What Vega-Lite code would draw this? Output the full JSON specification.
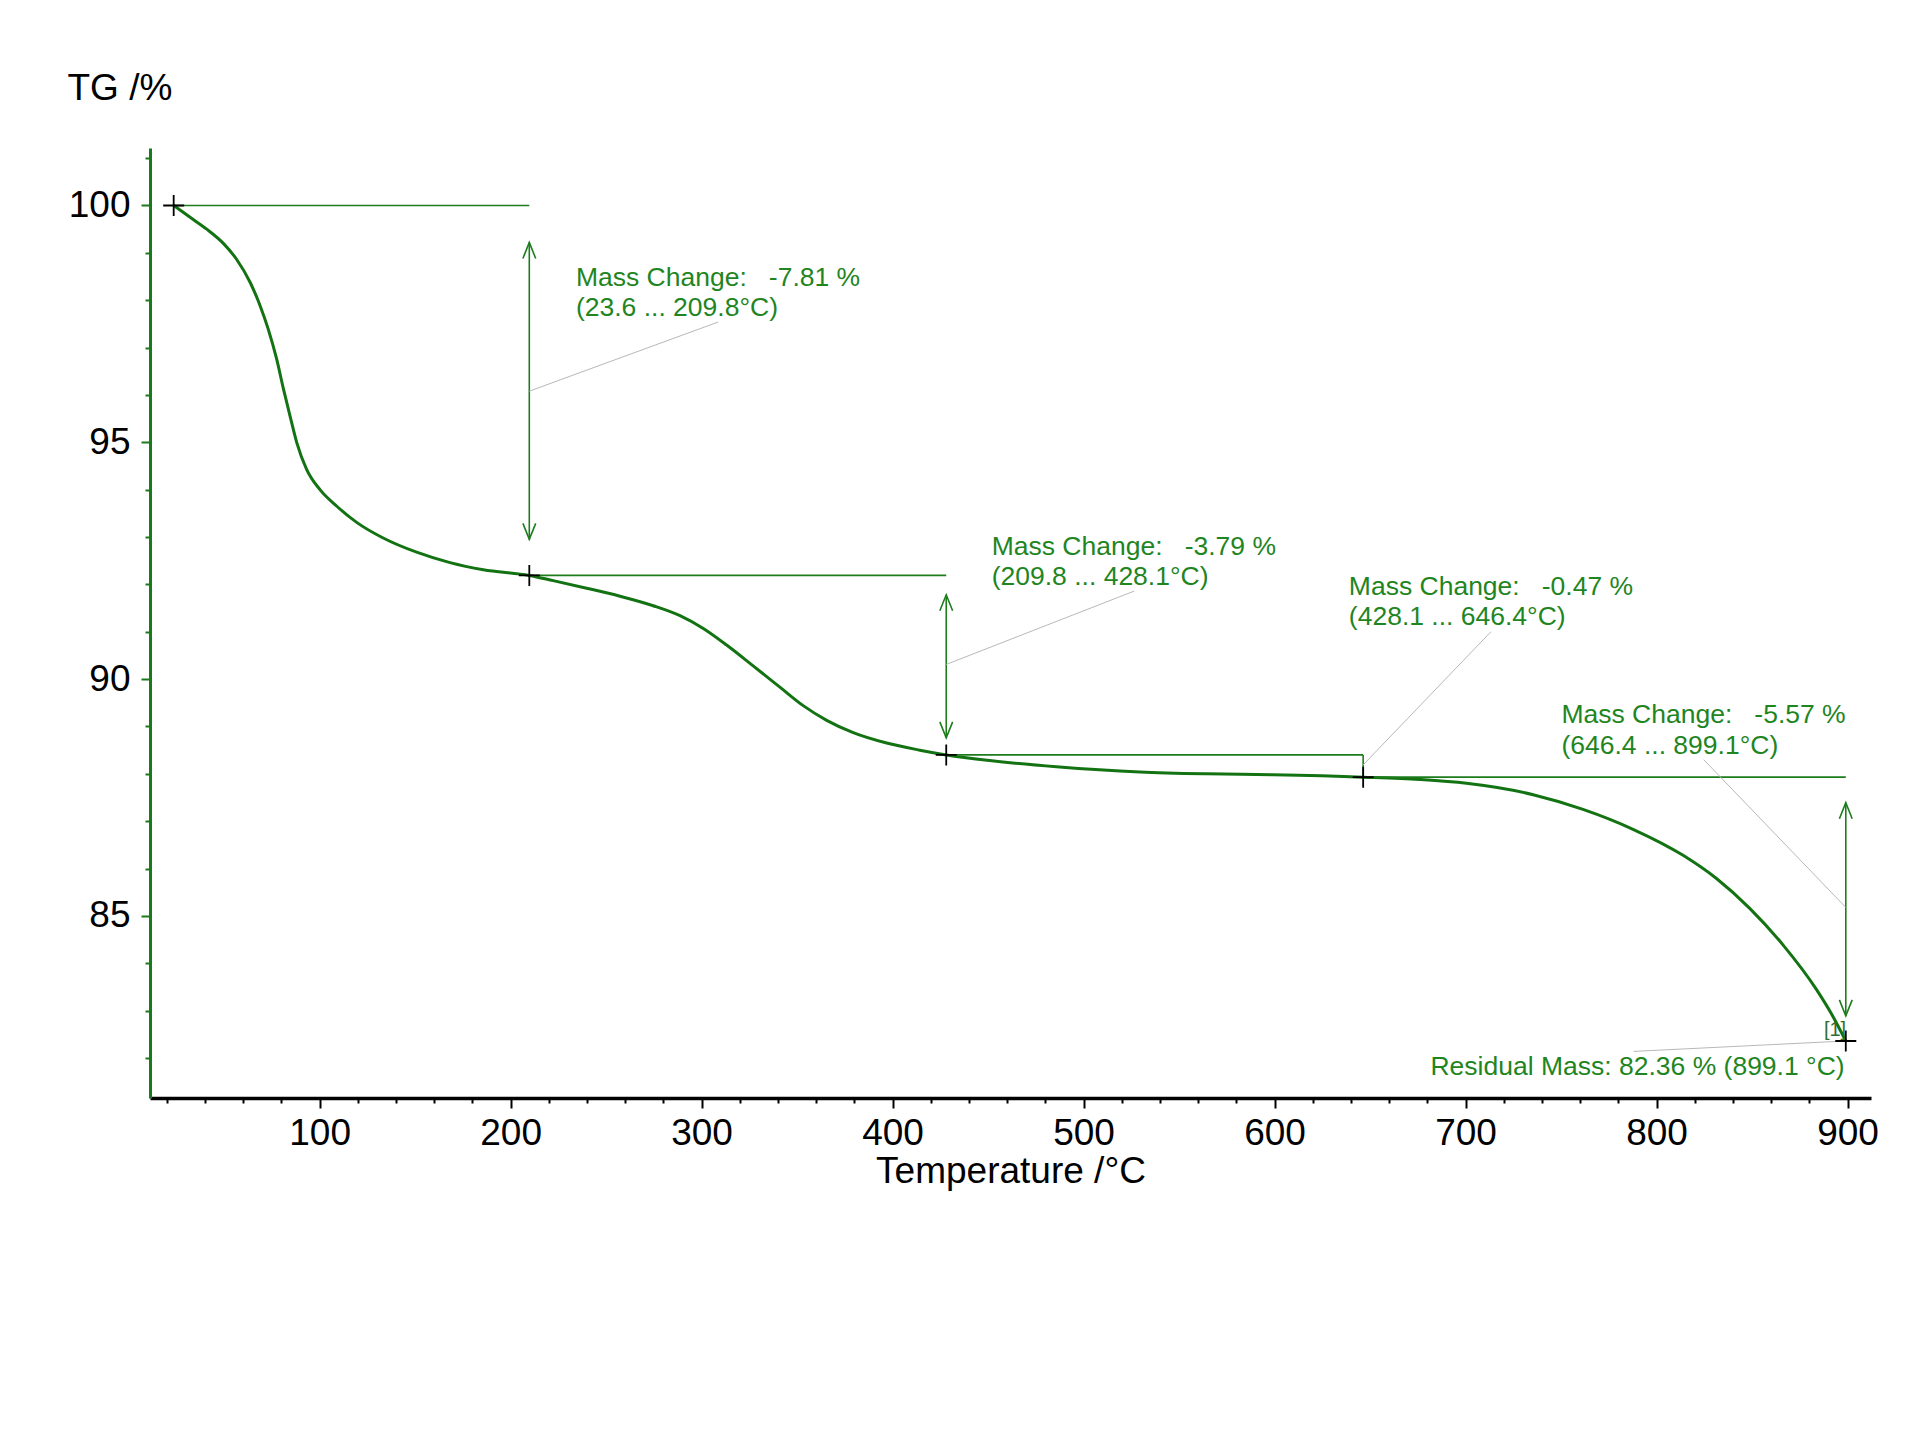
{
  "$schema": "https://vega.github.io/schema/vega-lite/v6.json",
  "width": 1721,
  "height": 950,
  "autosize": {"type": "none"},
  "padding": {"left": 150, "top": 148, "right": 49, "bottom": 354},
  "background": "white",
  "config": {"view": {"stroke": null}, "font": "Liberation Sans"},
  "datasets": {
    "curve": [
      {"T": 23.6, "TG": 100.0}, {"T": 32.2, "TG": 99.75}, {"T": 40.9, "TG": 99.50}, {"T": 49.6, "TG": 99.20},
      {"T": 56.6, "TG": 98.86}, {"T": 63.6, "TG": 98.38}, {"T": 68.8, "TG": 97.89}, {"T": 73.1, "TG": 97.39},
      {"T": 77.5, "TG": 96.76}, {"T": 81.0, "TG": 96.14}, {"T": 84.5, "TG": 95.56}, {"T": 88.0, "TG": 95.00},
      {"T": 93.2, "TG": 94.43}, {"T": 100.2, "TG": 94.0}, {"T": 109.0, "TG": 93.65}, {"T": 119.4, "TG": 93.31},
      {"T": 133.3, "TG": 92.98}, {"T": 150.8, "TG": 92.68}, {"T": 168.3, "TG": 92.46}, {"T": 185.7, "TG": 92.31},
      {"T": 209.8, "TG": 92.19}, {"T": 222.3, "TG": 92.08}, {"T": 239.8, "TG": 91.92}, {"T": 257.3, "TG": 91.75},
      {"T": 274.7, "TG": 91.55}, {"T": 288.7, "TG": 91.34}, {"T": 300.9, "TG": 91.07}, {"T": 313.1, "TG": 90.72},
      {"T": 327.0, "TG": 90.28}, {"T": 341.0, "TG": 89.83}, {"T": 353.2, "TG": 89.44}, {"T": 365.5, "TG": 89.13},
      {"T": 379.4, "TG": 88.87}, {"T": 396.9, "TG": 88.65}, {"T": 414.3, "TG": 88.50}, {"T": 428.1, "TG": 88.40},
      {"T": 450.9, "TG": 88.28}, {"T": 485.8, "TG": 88.15}, {"T": 529.5, "TG": 88.04}, {"T": 564.4, "TG": 88.00},
      {"T": 599.2, "TG": 87.98}, {"T": 646.4, "TG": 87.93}, {"T": 676.0, "TG": 87.88}, {"T": 700.5, "TG": 87.80},
      {"T": 735.4, "TG": 87.56}, {"T": 761.5, "TG": 87.25}, {"T": 787.7, "TG": 86.83}, {"T": 813.9, "TG": 86.28},
      {"T": 831.4, "TG": 85.79}, {"T": 848.8, "TG": 85.16}, {"T": 866.2, "TG": 84.39}, {"T": 883.7, "TG": 83.45},
      {"T": 891.5, "TG": 82.94}, {"T": 899.1, "TG": 82.36}
    ],
    "refs": [
      {"T": 23.6, "T2": 209.8, "TG": 100, "TG2": 100},
      {"T": 209.8, "T2": 428.1, "TG": 92.19, "TG2": 92.19},
      {"T": 428.1, "T2": 646.4, "TG": 88.40, "TG2": 88.40},
      {"T": 646.4, "T2": 646.4, "TG": 88.40, "TG2": 87.93},
      {"T": 646.4, "T2": 899.1, "TG": 87.93, "TG2": 87.93},
      {"T": 209.8, "T2": 209.8, "TG": 99.22, "TG2": 92.95},
      {"T": 428.1, "T2": 428.1, "TG": 91.78, "TG2": 88.76},
      {"T": 899.1, "T2": 899.1, "TG": 87.39, "TG2": 82.89}
    ],
    "heads": [
      {"T": 209.8, "TG": 99.22, "dir": "up"}, {"T": 209.8, "TG": 92.95, "dir": "down"},
      {"T": 428.1, "TG": 91.78, "dir": "up"}, {"T": 428.1, "TG": 88.76, "dir": "down"},
      {"T": 899.1, "TG": 87.39, "dir": "up"}, {"T": 899.1, "TG": 82.89, "dir": "down"}
    ],
    "leaders": [
      {"T": 209.8, "T2": 308.7, "TG": 96.08, "TG2": 97.54},
      {"T": 428.1, "T2": 526.6, "TG": 90.31, "TG2": 91.86},
      {"T": 646.4, "T2": 713.3, "TG": 88.19, "TG2": 91.0},
      {"T": 824.7, "T2": 899.1, "TG": 88.30, "TG2": 85.18},
      {"T": 788.0, "T2": 899.1, "TG": 82.14, "TG2": 82.36}
    ],
    "crosses": [
      {"T": 23.6, "TG": 100}, {"T": 209.8, "TG": 92.19}, {"T": 428.1, "TG": 88.40},
      {"T": 646.4, "TG": 87.93}, {"T": 899.1, "TG": 82.36}
    ],
    "notes": [
      {"T": 234.2, "TG": 98.30, "label": "Mass Change:\u00a0\u00a0 -7.81 %"},
      {"T": 234.2, "TG": 97.66, "label": "(23.6 ... 209.8°C)"},
      {"T": 451.9, "TG": 92.63, "label": "Mass Change:\u00a0\u00a0 -3.79 %"},
      {"T": 451.9, "TG": 91.99, "label": "(209.8 ... 428.1°C)"},
      {"T": 638.9, "TG": 91.77, "label": "Mass Change:\u00a0\u00a0 -0.47 %"},
      {"T": 638.9, "TG": 91.14, "label": "(428.1 ... 646.4°C)"},
      {"T": 750.2, "TG": 89.07, "label": "Mass Change:\u00a0\u00a0 -5.57 %"},
      {"T": 750.2, "TG": 88.42, "label": "(646.4 ... 899.1°C)"}
    ],
    "notesR": [
      {"T": 898.5, "TG": 81.65, "label": "Residual Mass: 82.36 % (899.1 °C)"}
    ],
    "tag": [
      {"T": 899.3, "TG": 82.47, "label": "[1]"}
    ]
  },
  "layer": [
    {
      "data": {"name": "curve"},
      "mark": {"type": "line", "color": "#137313", "strokeWidth": 3, "interpolate": "monotone"},
      "encoding": {
        "x": {
          "field": "T", "type": "quantitative",
          "scale": {"domain": [11.2, 912.3], "nice": false, "zero": false},
          "axis": {
            "title": "Temperature /°C",
            "values": [20,40,60,80,100,120,140,160,180,200,220,240,260,280,300,320,340,360,380,400,420,440,460,480,500,520,540,560,580,600,620,640,660,680,700,720,740,760,780,800,820,840,860,880,900],
            "tickCount": 200,
            "labelExpr": "datum.value % 100 === 0 ? datum.label : ''",
            "format": "d",
            "tickSize": {"condition": {"test": "datum.value % 100 === 0", "value": 10}, "value": 5},
            "domainColor": "black", "domainWidth": 3.5, "tickColor": "black", "tickWidth": 2,
            "labelFont": "Liberation Sans", "labelFontSize": 37, "labelColor": "black", "labelPadding": 7,
            "labelFlush": false, "labelOverlap": false, "grid": false,
            "titleFont": "Liberation Sans", "titleFontSize": 37, "titleFontWeight": "normal", "titleColor": "black",
            "titleY": 84, "titleBaseline": "alphabetic"
          }
        },
        "y": {
          "field": "TG", "type": "quantitative",
          "scale": {"domain": [81.156, 101.214], "nice": false, "zero": false},
          "axis": {
            "title": "TG /%",
            "values": [82,83,84,85,86,87,88,89,90,91,92,93,94,95,96,97,98,99,100,101],
            "tickCount": 200,
            "labelExpr": "datum.value % 5 === 0 ? datum.label : ''",
            "format": "d",
            "tickSize": {"condition": {"test": "datum.value % 5 === 0", "value": 9}, "value": 5},
            "domainColor": "#1a7a1a", "domainWidth": 3, "tickColor": "#1a7a1a", "tickWidth": 2,
            "labelFont": "Liberation Sans", "labelFontSize": 37, "labelColor": "black", "labelPadding": 11,
            "labelFlush": false, "labelOverlap": false, "grid": false,
            "titleFont": "Liberation Sans", "titleFontSize": 37, "titleFontWeight": "normal", "titleColor": "black",
            "titleAngle": 0, "titleAlign": "left", "titleBaseline": "alphabetic", "titleX": -83, "titleY": -49
          }
        }
      }
    },
    {
      "data": {"name": "refs"},
      "mark": {"type": "rule", "color": "#1d7d1d", "strokeWidth": 1.6},
      "encoding": {
        "x": {"field": "T", "type": "quantitative"},
        "x2": {"field": "T2"},
        "y": {"field": "TG", "type": "quantitative"},
        "y2": {"field": "TG2"}
      }
    },
    {
      "data": {"name": "leaders"},
      "mark": {"type": "rule", "color": "#b8b8b8", "strokeWidth": 1},
      "encoding": {
        "x": {"field": "T", "type": "quantitative"},
        "x2": {"field": "T2"},
        "y": {"field": "TG", "type": "quantitative"},
        "y2": {"field": "TG2"}
      }
    },
    {
      "data": {"name": "heads"},
      "mark": {"type": "point", "filled": false, "stroke": "#1d7d1d", "strokeWidth": 1.6, "size": 1024, "opacity": 1},
      "encoding": {
        "x": {"field": "T", "type": "quantitative"},
        "y": {"field": "TG", "type": "quantitative"},
        "shape": {"field": "dir", "type": "nominal", "legend": null,
          "scale": {"domain": ["up", "down"], "range": ["M-0.4,1L0,0L0.4,1", "M-0.4,-1L0,0L0.4,-1"]}}
      }
    },
    {
      "data": {"name": "crosses"},
      "mark": {"type": "point", "filled": false, "stroke": "black", "strokeWidth": 1.8, "size": 441, "opacity": 1, "shape": "M-1,0L1,0M0,-1L0,1"},
      "encoding": {
        "x": {"field": "T", "type": "quantitative"},
        "y": {"field": "TG", "type": "quantitative"}
      }
    },
    {
      "data": {"name": "notes"},
      "mark": {"type": "text", "align": "left", "baseline": "alphabetic", "font": "Liberation Sans", "fontSize": 26.5, "color": "#1f851f"},
      "encoding": {
        "x": {"field": "T", "type": "quantitative"},
        "y": {"field": "TG", "type": "quantitative"},
        "text": {"field": "label"}
      }
    },
    {
      "data": {"name": "notesR"},
      "mark": {"type": "text", "align": "right", "baseline": "alphabetic", "font": "Liberation Sans", "fontSize": 26.5, "color": "#1f851f"},
      "encoding": {
        "x": {"field": "T", "type": "quantitative"},
        "y": {"field": "TG", "type": "quantitative"},
        "text": {"field": "label"}
      }
    },
    {
      "data": {"name": "tag"},
      "mark": {"type": "text", "align": "right", "baseline": "alphabetic", "font": "Liberation Sans", "fontSize": 20, "color": "#2f6f2f"},
      "encoding": {
        "x": {"field": "T", "type": "quantitative"},
        "y": {"field": "TG", "type": "quantitative"},
        "text": {"field": "label"}
      }
    }
  ]
}
